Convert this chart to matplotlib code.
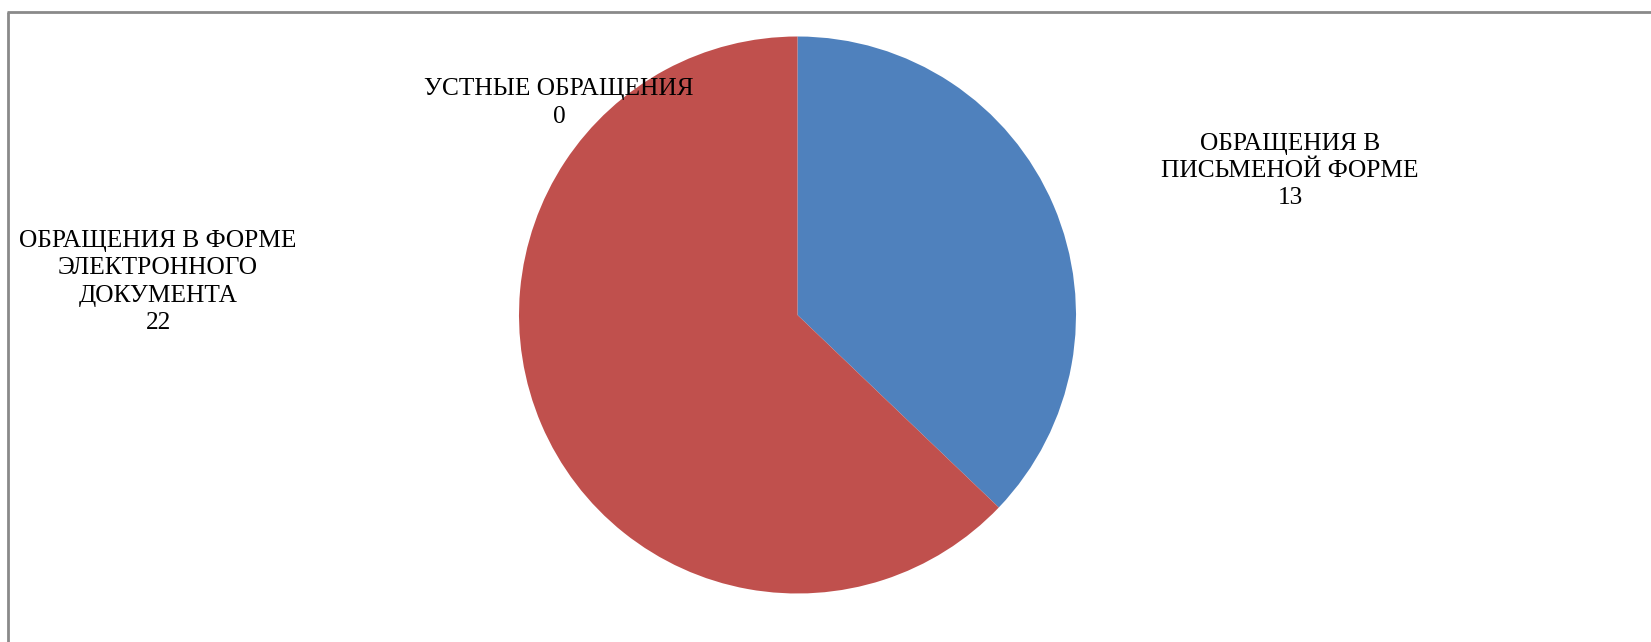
import matplotlib
matplotlib.use("Agg")
import matplotlib.pyplot as plt

categories = ["ОБРАЩЕНИЯ В\nПИСЬМЕНОЙ ФОРМЕ", "ОБРАЩЕНИЯ В ФОРМЕ\nЭЛЕКТРОННОГО\nДОКУМЕНТА", "УСТНЫЕ ОБРАЩЕНИЯ"]
values = [13, 22, 0]
colors = ["#4F81BD", "#C0504D", "#9BBB59"]

W, H = 1651, 642
fig = plt.figure(figsize=(W / 100, H / 100), dpi=100)
ax = fig.add_axes([0, 0, 1, 1])
ax.set_xlim(0, W)
ax.set_ylim(0, H)
ax.set_aspect("equal")
ax.axis("off")

cx, cy, r = 797.5, H - 315, 278.5
ax.pie(values, colors=colors, startangle=90, counterclock=False,
       center=(cx, cy), radius=r, frame=True,
       wedgeprops=dict(linewidth=0))
ax.set_xlim(0, W)
ax.set_ylim(0, H)
ax.axis("off")

# frame
ax.plot([8, 8], [-10, H - 12], color="#8a8a8a", lw=2, solid_capstyle="butt")
ax.plot([7, W + 10], [H - 12, H - 12], color="#8a8a8a", lw=2, solid_capstyle="butt")

label_pos = [(1290, 171), (158, 282), (559, 103)]
for cat, val, (lx, ly) in zip(categories, values, label_pos):
    ax.text(lx, H - ly, f"{cat}\n{val}", ha="center", va="center",
            fontsize=18.3, family="Liberation Serif", linespacing=1.3,
            multialignment="center")

fig.savefig("out.png", dpi=100)
